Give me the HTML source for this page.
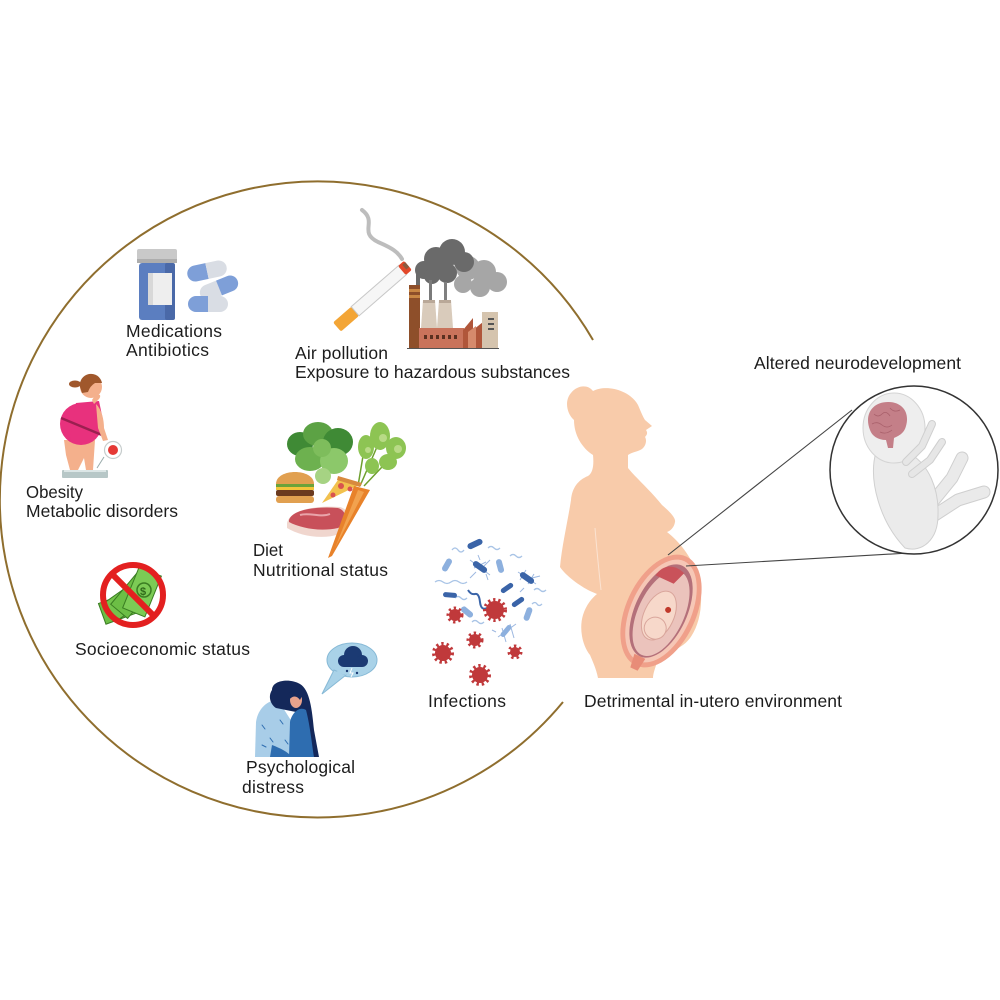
<!DOCTYPE html>
<html>
<head>
<meta charset="utf-8">
<style>
  html, body { margin: 0; padding: 0; background: #ffffff; }
  svg { display: block; }
  text { font-family: "Liberation Sans", Arial, sans-serif; font-size: 17.5px; fill: #1c1c1c; }
</style>
</head>
<body>
<svg width="1000" height="1000" viewBox="0 0 1000 1000" xmlns="http://www.w3.org/2000/svg">
  <rect width="1000" height="1000" fill="#ffffff"/>

  <!-- Big enclosing arc -->
  <path d="M 593 340 A 318 318 0 1 0 563 702" fill="none" stroke="#8F6E2E" stroke-width="2"/>

  <!-- ============ Medications ============ -->
  <g>
    <rect x="137" y="249" width="40" height="14" rx="2" fill="#C9C9C9"/>
    <rect x="137" y="259" width="40" height="4" fill="#ADADAD"/>
    <rect x="139" y="263" width="36" height="57" rx="3" fill="#5B7EC0"/>
    <rect x="165" y="263" width="10" height="57" rx="2" fill="#4A69A8"/>
    <rect x="148" y="273" width="24" height="32" fill="#EEEEEE"/>
    <rect x="148" y="273" width="5" height="32" fill="#D8D8D8"/>
    <g transform="translate(207,271) rotate(-12)">
      <path d="M0 -8 L -12 -8 A 8 8 0 0 0 -12 8 L 0 8 Z" fill="#7E9FD8"/>
      <path d="M0 -8 L 12 -8 A 8 8 0 0 1 12 8 L 0 8 Z" fill="#D9DDE4"/>
    </g>
    <g transform="translate(219,288) rotate(-22)">
      <path d="M0 -8 L -12 -8 A 8 8 0 0 0 -12 8 L 0 8 Z" fill="#D9DDE4"/>
      <path d="M0 -8 L 12 -8 A 8 8 0 0 1 12 8 L 0 8 Z" fill="#7E9FD8"/>
    </g>
    <g transform="translate(208,304)">
      <path d="M0 -8 L -12 -8 A 8 8 0 0 0 -12 8 L 0 8 Z" fill="#7E9FD8"/>
      <path d="M0 -8 L 12 -8 A 8 8 0 0 1 12 8 L 0 8 Z" fill="#D9DDE4"/>
    </g>
  </g>
  <text x="126" y="337" textLength="96" lengthAdjust="spacing">Medications</text>
  <text x="126" y="356" textLength="83" lengthAdjust="spacing">Antibiotics</text>

  <!-- ============ Air pollution ============ -->
  <g>
    <path d="M 362 210 C 378 222, 358 232, 378 242 C 392 248, 398 252, 402 259" fill="none" stroke="#BDBDBD" stroke-width="4" stroke-linecap="round"/>
    <g transform="translate(337,327) rotate(-41)">
      <rect x="0" y="-6" width="24" height="12" rx="2" fill="#F3A536"/>
      <rect x="24" y="-6" width="63" height="12" fill="#F6F6F6" stroke="#C8C8C8" stroke-width="1"/>
      <rect x="86" y="-6" width="8" height="12" rx="2" fill="#E2482A"/>
      <rect x="90" y="-4" width="4" height="6" fill="#8A5A40"/>
    </g>
    <g fill="#A6A6A6">
      <circle cx="468" cy="268" r="12"/>
      <circle cx="484" cy="272" r="12"/>
      <circle cx="497" cy="282" r="10"/>
      <circle cx="480" cy="287" r="10"/>
      <circle cx="463" cy="284" r="9"/>
    </g>
    <g fill="#6A6A6A">
      <circle cx="424" cy="270" r="9"/>
      <circle cx="436" cy="259" r="12"/>
      <circle cx="452" cy="252" r="13"/>
      <circle cx="464" cy="262" r="10"/>
      <circle cx="447" cy="273" r="10"/>
      <circle cx="432" cy="276" r="8"/>
    </g>
    <rect x="416" y="274" width="4" height="12" fill="#6A6A6A"/>
    <rect x="429" y="280" width="3" height="20" fill="#7A7A7A"/>
    <rect x="444" y="282" width="3" height="18" fill="#808080"/>
    <rect x="409" y="285" width="11" height="63" fill="#8E4F2A"/>
    <rect x="409" y="289" width="11" height="3" fill="#C98744"/>
    <rect x="409" y="295" width="11" height="3" fill="#C98744"/>
    <path d="M 423 300 L 435 300 L 437 328 L 421 328 Z" fill="#D9CBBB"/>
    <path d="M 439 300 L 451 300 L 453 328 L 437 328 Z" fill="#D9CBBB"/>
    <rect x="423" y="300" width="12" height="3" fill="#B9A898"/>
    <rect x="439" y="300" width="12" height="3" fill="#B9A898"/>
    <rect x="419" y="328" width="45" height="20" fill="#C9735B"/>
    <g fill="#5A3020">
      <rect x="424" y="335" width="3" height="4"/><rect x="430" y="335" width="3" height="4"/>
      <rect x="436" y="335" width="3" height="4"/><rect x="442" y="335" width="3" height="4"/>
      <rect x="448" y="335" width="3" height="4"/><rect x="454" y="335" width="3" height="4"/>
    </g>
    <path d="M 463 348 L 463 330 L 473 318 L 473 330 L 483 322 L 483 348 Z" fill="#B0563A"/>
    <path d="M 468 348 L 468 332 L 476 326 L 476 348 Z" fill="#D68A6C"/>
    <rect x="482" y="312" width="16" height="36" fill="#D5C4AE"/>
    <rect x="488" y="318" width="6" height="2" fill="#555"/>
    <rect x="488" y="323" width="6" height="2" fill="#555"/>
    <rect x="488" y="328" width="6" height="2" fill="#555"/>
    <line x1="407" y1="348.5" x2="499" y2="348.5" stroke="#555" stroke-width="1"/>
  </g>
  <text x="295" y="359" textLength="93" lengthAdjust="spacing">Air pollution</text>
  <text x="295" y="378" textLength="275" lengthAdjust="spacing">Exposure to hazardous substances</text>

  <!-- ============ Obesity ============ -->
  <g>
    <rect x="62" y="470" width="46" height="8" rx="1" fill="#B7C7C7"/>
    <rect x="64" y="470" width="42" height="2" fill="#DCE6E6"/>
    <path d="M 64 440 L 95 440 L 93 470 L 86 470 L 84 458 L 78 470 L 70 470 L 66 455 Z" fill="#F4B08C"/>
    <ellipse cx="81" cy="424" rx="21" ry="21" fill="#E8317D"/>
    <path d="M 76 403 L 99 401 L 103 420 L 92 440 L 70 440 Z" fill="#E8317D"/>
    <line x1="61" y1="418" x2="102" y2="435" stroke="#9B1F50" stroke-width="2.5"/>
    <path d="M 96 404 C 102 410, 104 420, 104 428 L 108 440 L 103 441 L 98 428 Z" fill="#F4B08C"/>
    <path d="M 94 404 C 98 400, 101 398, 100 395 L 96 394 L 92 400 Z" fill="#F4B08C"/>
    <circle cx="91" cy="387" r="11" fill="#F4B08C"/>
    <path d="M 80 387 A 11 11 0 0 1 102 383 L 95 383 Q 90 386, 88 392 L 82 393 Z" fill="#A0582C"/>
    <ellipse cx="75" cy="384" rx="6" ry="3.5" fill="#A0582C"/>
    <line x1="104" y1="457" x2="97" y2="468" stroke="#9AA" stroke-width="1"/>
    <circle cx="113" cy="450" r="8.5" fill="#ffffff" stroke="#C6CCCC" stroke-width="1.2"/>
    <circle cx="113" cy="450" r="5" fill="#E53935"/>
  </g>
  <text x="26" y="498" textLength="57" lengthAdjust="spacingAndGlyphs">Obesity</text>
  <text x="26" y="517" textLength="152" lengthAdjust="spacing">Metabolic disorders</text>

  <!-- ============ Diet ============ -->
  <g>
    <g stroke="#6E9F2E" stroke-width="1.5" fill="none">
      <path d="M 360 486 L 380 440"/>
      <path d="M 364 486 L 398 450"/>
      <path d="M 358 486 L 366 438"/>
    </g>
    <g fill="#8DC453">
      <ellipse cx="380" cy="436" rx="10" ry="14"/>
      <ellipse cx="396" cy="448" rx="10" ry="11"/>
      <ellipse cx="366" cy="447" rx="8" ry="12"/>
      <ellipse cx="388" cy="462" rx="9" ry="8"/>
      <ellipse cx="372" cy="466" rx="7" ry="8"/>
    </g>
    <g fill="#B8DA86">
      <circle cx="383" cy="438" r="4"/><circle cx="398" cy="449" r="4"/><circle cx="368" cy="450" r="3"/>
    </g>
    <g>
      <ellipse cx="300" cy="444" rx="13" ry="12" fill="#3F8A35"/>
      <ellipse cx="318" cy="434" rx="15" ry="12" fill="#5CA244"/>
      <ellipse cx="338" cy="442" rx="15" ry="14" fill="#3F8A35"/>
      <ellipse cx="310" cy="459" rx="15" ry="12" fill="#6DB14F"/>
      <ellipse cx="334" cy="461" rx="14" ry="13" fill="#8CC86A"/>
      <ellipse cx="323" cy="476" rx="8" ry="8" fill="#A6D383"/>
      <ellipse cx="322" cy="448" rx="9" ry="9" fill="#7EBD5C"/>
    </g>
    <path d="M 276 484 C 276 468, 314 468, 314 484 Z" fill="#E1A050"/>
    <rect x="276" y="484" width="38" height="3" fill="#6BA33A"/>
    <rect x="276" y="487" width="38" height="3" fill="#F3C53A"/>
    <rect x="276" y="490" width="38" height="6" rx="2" fill="#6B3A1F"/>
    <rect x="276" y="496" width="38" height="7" rx="3" fill="#E1A050"/>
    <path d="M 322 503 L 340 477 L 361 484 Z" fill="#F2C14E"/>
    <path d="M 338 476 L 362 483 L 360 487 L 337 480 Z" fill="#D88A3E"/>
    <circle cx="341" cy="486" r="3" fill="#D9534F"/>
    <circle cx="350" cy="489" r="2.5" fill="#D9534F"/>
    <circle cx="333" cy="495" r="2.5" fill="#D9534F"/>
    <path d="M 287 523 C 290 510, 315 505, 340 507 C 352 510, 352 528, 340 534 C 322 540, 300 536, 287 528 Z" fill="#F0D6CE"/>
    <path d="M 289 520 C 292 510, 315 506, 338 508 C 348 511, 348 524, 338 528 C 320 532, 300 528, 289 522 Z" fill="#C8505A"/>
    <path d="M 300 515 C 310 512, 320 518, 330 514" stroke="#E9A4AA" stroke-width="2" fill="none"/>
    <path d="M 354 486 L 370 490 L 332 556 L 328 558 Z" fill="#E8822A"/>
    <path d="M 358 490 L 364 492 L 335 548 Z" fill="#F2A24E"/>
  </g>
  <text x="253" y="556" textLength="30" lengthAdjust="spacingAndGlyphs">Diet</text>
  <text x="253" y="576" textLength="135" lengthAdjust="spacing">Nutritional status</text>

  <!-- ============ Socioeconomic ============ -->
  <g>
    <g stroke="#3A7D22" stroke-width="1">
      <rect x="-20" y="-11" width="40" height="22" fill="#6CBE45" transform="translate(121,607) rotate(-20)"/>
      <rect x="-20" y="-11" width="40" height="22" fill="#74C44C" transform="translate(126,601) rotate(-35)"/>
      <rect x="-20" y="-11" width="40" height="22" fill="#6CBE45" transform="translate(132,596) rotate(-50)"/>
      <rect x="-22" y="-12" width="44" height="24" fill="#7CCB55" transform="translate(142,592) rotate(-68)"/>
    </g>
    <circle cx="144" cy="590" r="7" fill="none" stroke="#3A7D22" stroke-width="1.5"/>
    <text x="140" y="595" style="font-size:11px;fill:#2F6A1A;font-weight:bold">$</text>
    <circle cx="133" cy="595" r="30" fill="none" stroke="#E32020" stroke-width="6"/>
    <line x1="112" y1="574" x2="154" y2="616" stroke="#E32020" stroke-width="6"/>
  </g>
  <text x="75" y="655" textLength="175" lengthAdjust="spacing">Socioeconomic status</text>

  <!-- ============ Psychological distress ============ -->
  <g>
    <ellipse cx="352" cy="660" rx="25" ry="17" fill="#A9D2E8" stroke="#86B9D6" stroke-width="1"/>
    <path d="M 334 670 L 322 694 L 346 675 Z" fill="#A9D2E8" stroke="#86B9D6" stroke-width="1"/>
    <path d="M 335 672 L 346 675 L 347 668 Z" fill="#A9D2E8"/>
    <g fill="#1B3A73">
      <circle cx="344" cy="661" r="6"/>
      <circle cx="353" cy="655" r="9"/>
      <circle cx="362" cy="661" r="6"/>
      <rect x="344" y="658" width="18" height="9"/>
    </g>
    <circle cx="347" cy="671" r="1.2" fill="#1B3A73"/>
    <circle cx="357" cy="673" r="1.2" fill="#1B3A73"/>
    <path d="M 352 668 L 350 673 L 353 673 L 351 677" stroke="#ffffff" stroke-width="1" fill="none"/>
    <path d="M 255 757 L 256 722 C 258 708, 268 700, 278 700 L 292 722 L 300 757 Z" fill="#A8CDE8"/>
    <g stroke="#2E6DB0" stroke-width="1" stroke-linecap="round">
      <line x1="262" y1="725" x2="265" y2="729"/><line x1="270" y1="738" x2="273" y2="742"/>
      <line x1="280" y1="720" x2="283" y2="724"/><line x1="262" y1="745" x2="266" y2="747"/>
      <line x1="285" y1="740" x2="288" y2="744"/>
    </g>
    <path d="M 272 690 C 272 680, 290 678, 300 684 C 310 690, 312 710, 314 730 L 319 757 L 303 757 C 300 740, 300 725, 296 712 L 276 708 C 270 704, 268 696, 272 690 Z" fill="#14285A"/>
    <path d="M 289 757 L 290 722 C 292 712, 300 706, 306 710 C 310 725, 312 745, 314 757 Z" fill="#2E6DB0"/>
    <ellipse cx="296" cy="700" rx="6" ry="8" fill="#E9A28C"/>
    <path d="M 283 700 C 288 690, 298 688, 303 694 L 300 700 C 296 694, 290 696, 287 704 Z" fill="#14285A"/>
    <path d="M 272 745 C 280 748, 288 752, 292 757 L 270 757 Z" fill="#2E6DB0"/>
  </g>
  <text x="246" y="773" textLength="109" lengthAdjust="spacing">Psychological</text>
  <text x="242" y="793" textLength="62" lengthAdjust="spacing">distress</text>

  <!-- ============ Infections ============ -->
  <g>
    <g fill="none" stroke="#A9C4E6" stroke-width="1.3">
      <path d="M 435 582 q 4 -3 8 0 t 8 0 t 8 0 t 8 0"/>
      <path d="M 452 550 q 3 -4 6 0 t 6 0"/>
      <path d="M 488 548 q 3 -3 6 0 t 6 0"/>
      <path d="M 510 556 q 3 -3 6 0 t 6 0"/>
      <path d="M 455 598 q 3 -3 6 0 t 6 0"/>
      <path d="M 534 590 q 3 -3 6 0 t 6 0"/>
      <path d="M 472 622 q 3 -3 6 0 t 6 0"/>
      <path d="M 532 604 q 3 -3 5 0 t 5 0"/>
    </g>
    <path d="M 468 590 q 3 5 7 4 t 5 8 t 7 6" fill="none" stroke="#3A64A8" stroke-width="2"/>
    <g stroke="#9DB8E0" stroke-width="1">
      <path d="M 470 560 L 490 575 M 474 568 L 486 562 M 476 572 L 470 578 M 484 566 L 490 560 M 480 560 L 478 555 M 486 574 L 488 580"/>
      <path d="M 518 572 L 536 584 M 520 580 L 526 570 M 528 584 L 534 574 M 524 588 L 520 592 M 532 578 L 540 576"/>
      <path d="M 498 637 L 516 624 M 502 628 L 506 642 M 510 624 L 514 638 M 496 632 L 492 630"/>
    </g>
    <g fill="#3A64A8">
      <rect x="-8" y="-3" width="16" height="6" rx="3" transform="translate(475,544) rotate(-25)"/>
      <rect x="-8" y="-3" width="16" height="6" rx="3" transform="translate(480,567) rotate(35)"/>
      <rect x="-8" y="-3" width="16" height="6" rx="3" transform="translate(527,578) rotate(35)"/>
      <rect x="-7" y="-2.5" width="14" height="5" rx="2.5" transform="translate(450,595) rotate(5)"/>
      <rect x="-7" y="-2.5" width="14" height="5" rx="2.5" transform="translate(507,588) rotate(-35)"/>
      <rect x="-7" y="-2.5" width="14" height="5" rx="2.5" transform="translate(518,602) rotate(-35)"/>
    </g>
    <g fill="#8DB0DE">
      <rect x="-7" y="-3" width="14" height="6" rx="3" transform="translate(447,565) rotate(-60)"/>
      <rect x="-7" y="-3" width="14" height="6" rx="3" transform="translate(500,566) rotate(75)"/>
      <rect x="-7" y="-3" width="14" height="6" rx="3" transform="translate(467,612) rotate(40)"/>
      <rect x="-7" y="-3" width="14" height="6" rx="3" transform="translate(528,614) rotate(-70)"/>
      <rect x="-7" y="-2.5" width="14" height="5" rx="2.5" transform="translate(506,631) rotate(-50)"/>
    </g>
    <g fill="#C0393B" stroke="#C0393B" stroke-dasharray="2 2.5">
      <circle cx="455" cy="615" r="6" stroke-width="5"/>
      <circle cx="495" cy="610" r="9" stroke-width="6"/>
      <circle cx="475" cy="640" r="6" stroke-width="5"/>
      <circle cx="443" cy="653" r="8" stroke-width="6"/>
      <circle cx="515" cy="652" r="5" stroke-width="5"/>
      <circle cx="480" cy="675" r="8" stroke-width="6"/>
    </g>
  </g>
  <text x="428" y="707" textLength="78" lengthAdjust="spacing">Infections</text>

  <!-- ============ Pregnant woman ============ -->
  <g>
    <path d="M 598 678
      C 596 668, 592 660, 590 655
      C 582 645, 579 628, 583 615
      C 586 605, 592 598, 597 594
      L 590 591
      C 580 586, 566 576, 560 567
      C 562 545, 568 520, 571 500
      C 572 488, 578 480, 588 476
      C 593 473, 594 465, 593 455
      C 582 448, 574 435, 574 420
      C 567 414, 564 401, 571 393
      C 577 385, 588 384, 593 391
      C 606 384, 630 390, 638 405
      C 641 412, 643 417, 645 420
      L 652 426 L 646 430
      C 648 433, 647 435, 645 437
      C 647 440, 646 446, 642 449
      C 637 452, 632 452, 628 455
      L 628 468
      C 636 478, 650 490, 662 505
      C 670 512, 676 518, 675 522
      C 674 528, 670 531, 667 532
      C 680 542, 695 560, 700 585
      C 704 610, 697 635, 683 645
      C 672 653, 662 655, 658 660
      C 655 668, 653 674, 653 678 Z" fill="#F8CBAA"/>
    <path d="M 595 528 C 597 552, 599 572, 601 590" fill="none" stroke="#FBE3D2" stroke-width="1"/>
    <g transform="translate(661,611) rotate(25)">
      <ellipse cx="0" cy="0" rx="35" ry="60" fill="#F0A08A"/>
      <ellipse cx="0" cy="0" rx="30" ry="55" fill="#F6C7B6"/>
      <ellipse cx="0" cy="0" rx="26" ry="50" fill="#B4707A"/>
      <ellipse cx="1" cy="2" rx="23" ry="46" fill="#EBC3BC"/>
      <path d="M -20 -30 C -18 -45, -5 -48, 5 -44 L 0 -30 Z" fill="#C9525A"/>
      <ellipse cx="0" cy="5" rx="15" ry="26" fill="#F7D8CA" stroke="#D9A59B" stroke-width="1"/>
      <circle cx="2" cy="18" r="11" fill="#F7D8CA" stroke="#D9A59B" stroke-width="1"/>
      <circle cx="6" cy="-4" r="3" fill="#C0392B"/>
      <path d="M -6 50 L -4 64 L 4 64 L 6 50 Z" fill="#E88C78"/>
    </g>
  </g>
  <text x="584" y="707" textLength="258" lengthAdjust="spacing">Detrimental in-utero environment</text>

  <!-- ============ Zoom connectors and fetus ============ -->
  <line x1="668" y1="555" x2="852" y2="410" stroke="#444" stroke-width="1.1"/>
  <line x1="686" y1="566" x2="909" y2="553" stroke="#444" stroke-width="1.1"/>
  <circle cx="914" cy="470" r="84" fill="#ffffff" stroke="#333" stroke-width="1.5"/>
  <g stroke-linecap="round" stroke-linejoin="round" fill="none">
    <!-- legs: outline then fill -->
    <path d="M 926 510 L 952 478 L 962 458" stroke="#CFCFCF" stroke-width="13"/>
    <path d="M 926 510 L 952 478 L 962 458" stroke="#EAEAEA" stroke-width="11"/>
    <path d="M 924 522 L 958 500 L 984 492" stroke="#CFCFCF" stroke-width="13"/>
    <path d="M 924 522 L 958 500 L 984 492" stroke="#EAEAEA" stroke-width="11"/>
  </g>
  <path d="M 876 452 C 868 480, 880 522, 905 548 C 922 553, 938 540, 938 515 C 939 488, 928 465, 912 455 Z" fill="#EBEBEB" stroke="#D0D0D0" stroke-width="1"/>
  <ellipse cx="894" cy="428" rx="31" ry="35" fill="#EEEEEE" stroke="#D4D4D4" stroke-width="1"/>
  <g stroke-linecap="round" stroke-linejoin="round" fill="none">
    <path d="M 906 462 L 922 446 L 932 424" stroke="#CFCFCF" stroke-width="8"/>
    <path d="M 906 462 L 922 446 L 932 424" stroke="#E6E6E6" stroke-width="6"/>
    <path d="M 912 474 L 930 460 L 942 442" stroke="#CFCFCF" stroke-width="8"/>
    <path d="M 912 474 L 930 460 L 942 442" stroke="#E6E6E6" stroke-width="6"/>
  </g>
  <path d="M 870 430 C 864 415, 872 402, 888 402 C 902 402, 910 412, 906 426 C 904 434, 898 436, 894 438 L 893 448 L 888 448 L 886 440 C 878 440, 872 436, 870 430 Z" fill="#C47F88"/>
  <g fill="none" stroke="#A9606B" stroke-width="0.8">
    <path d="M 874 414 q 4 4 8 0 t 8 2"/><path d="M 872 424 q 5 -3 10 1 t 10 0"/>
    <path d="M 890 408 q 4 5 10 2"/><path d="M 880 432 q 6 3 12 -2"/>
  </g>
  <text x="754" y="369" textLength="207" lengthAdjust="spacing">Altered neurodevelopment</text>
</svg>
</body>
</html>
